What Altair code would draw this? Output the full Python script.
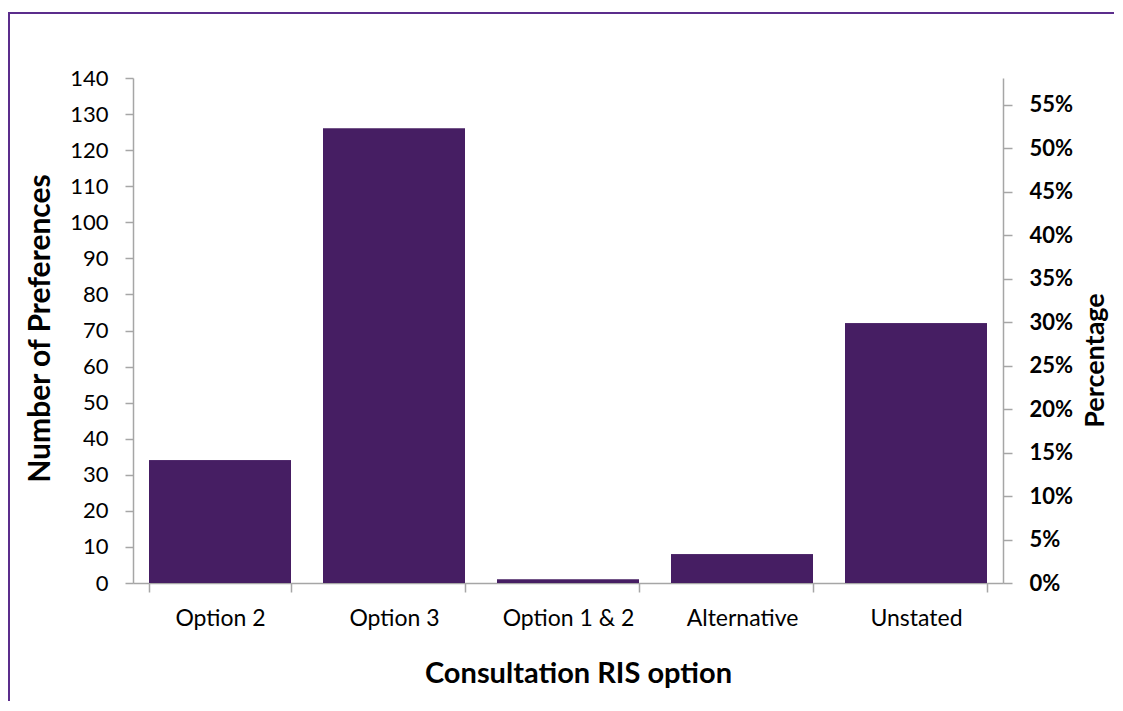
import altair as alt
import pandas as pd

categories = ["Option 2", "Option 3", "Option 1 & 2", "Alternative", "Unstated"]
counts = [34, 126, 1, 8, 72]
total_responses = 241
left_ticks = [0, 10, 20, 30, 40, 50, 60, 70, 80, 90, 100, 110, 120, 130, 140]
right_ticks = [0.0, 0.05, 0.10, 0.15, 0.20, 0.25, 0.30, 0.35, 0.40, 0.45, 0.50, 0.55]

df = pd.DataFrame({"category": categories, "count": counts})
df["pct"] = df["count"] / total_responses

FONT = "Lato"
BAR = "#461E63"
AXIS = "#A6A6A6"
W, H = 870, 505

xscale = alt.Scale(paddingInner=0.184, paddingOuter=0.092)
xaxis = alt.Axis(
    title="Consultation RIS option",
    labelAngle=0,
    labelFont=FONT,
    labelFontSize=23,
    labelColor="#000000",
    labelPadding=15,
    tickBand="extent",
    tickSize=9,
    tickColor=AXIS,
    tickWidth=1.5,
    domainColor=AXIS,
    domainWidth=1.5,
    titleFont=FONT,
    titleFontSize=29,
    titleFontWeight="bold",
    titleColor="#000000",
    titleX=445,
    titleY=90,
    titleAlign="center",
    titleBaseline="middle",
)

bars = alt.Chart(df).mark_bar(color=BAR).encode(
    x=alt.X("category:N", sort=categories, scale=xscale, axis=xaxis),
    y=alt.Y(
        "count:Q",
        scale=alt.Scale(domain=[0, 140], nice=False),
        axis=alt.Axis(
            title="Number of Preferences",
            values=left_ticks,
            grid=False,
            labelFont=FONT,
            labelFontSize=22,
            labelColor="#000000",
            labelPadding=17,
            tickSize=8,
            tickColor=AXIS,
            tickWidth=1.5,
            domainColor=AXIS,
            domainWidth=1.5,
            titleFont=FONT,
            titleFontSize=30,
            titleFontWeight="bold",
            titleColor="#000000",
            titleAngle=270,
            titleX=-93,
            titleY=250,
            titleAlign="center",
            titleBaseline="middle",
        ),
    ),
)

pct_bars = alt.Chart(df).mark_bar(color=BAR).encode(
    x=alt.X("category:N", sort=categories, scale=xscale, axis=xaxis),
    y=alt.Y(
        "pct:Q",
        scale=alt.Scale(domain=[0, 140 / total_responses], nice=False),
        axis=alt.Axis(
            orient="right",
            title="Percentage",
            values=right_ticks,
            format=".0%",
            grid=False,
            labelFont=FONT,
            labelFontSize=22,
            labelFontWeight="bold",
            labelColor="#000000",
            labelPadding=17,
            tickSize=9,
            tickColor=AXIS,
            tickWidth=1.5,
            domainColor=AXIS,
            domainWidth=1.5,
            titleFont=FONT,
            titleFontSize=27,
            titleFontWeight="bold",
            titleColor="#000000",
            titleAngle=270,
            titleX=92,
            titleY=282,
            titleAlign="center",
            titleBaseline="middle",
        ),
    ),
)

frame = alt.Chart(df).mark_rect(
    fill=None, stroke="#5B2D8C", strokeWidth=2
).encode(
    x=alt.value(-124), x2=alt.value(1100),
    y=alt.value(-65), y2=alt.value(800),
)

chart = alt.layer(frame, bars, pct_bars).resolve_scale(y="independent").properties(
    width=W,
    height=H,
    autosize=alt.AutoSizeParams(type="none"),
    padding={"left": 125, "top": 70, "right": 111, "bottom": 118},
    background="white",
).configure_view(stroke=None)

chart.save("out.html", embed_options={"renderer": "svg", "actions": False})
